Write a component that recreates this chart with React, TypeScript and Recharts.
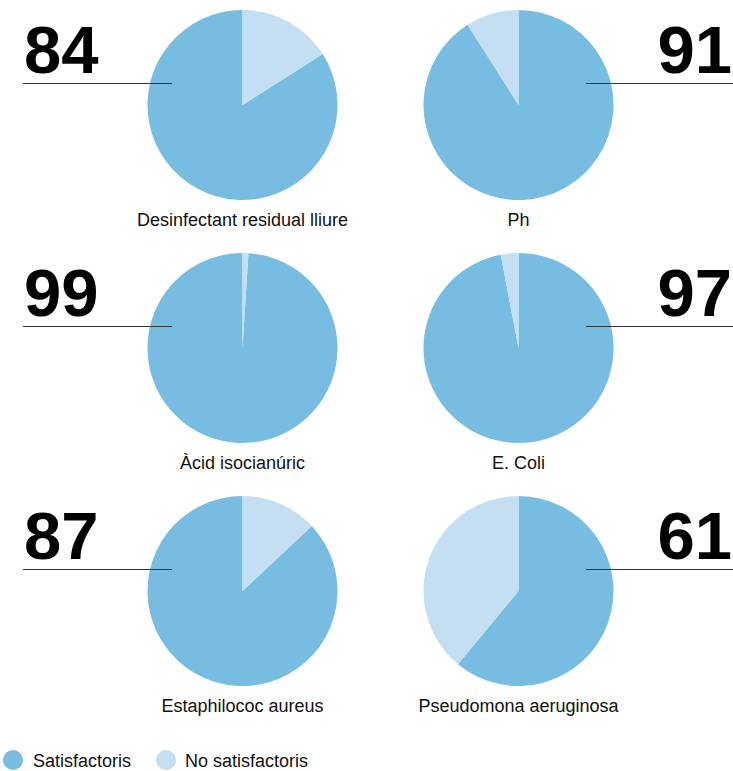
import { PieChart, Pie, Cell } from 'recharts'

const tests = [
  'Desinfectant residual lliure',
  'Ph',
  'Àcid isocianúric',
  'E. Coli',
  'Estaphilococ aureus',
  'Pseudomona aeruginosa',
]
const satisfactoris = [84, 91, 99, 97, 87, 61]
const noSatisfactoris = [16, 9, 1, 3, 13, 39]
const seriesNames = ['Satisfactoris', 'No satisfactoris']

const COLORS = ['#77bce1', '#c4def2']
const W = 733
const H = 771
const FONT = '"Liberation Sans", Arial, Helvetica, sans-serif'

// grid geometry
const colX = [242.5, 518.5]
const rowY = [105, 348, 591]
const R = 95

export default function App() {
  return (
    <div style={{ position: 'absolute', left: 0, top: 0, width: W, height: H, background: '#fff' }}>
      <PieChart width={W} height={H} margin={{ top: 0, right: 0, bottom: 0, left: 0 }}>
        {tests.map((t, i) => {
          const col = i % 2
          const row = Math.floor(i / 2)
          const data = [
            { name: seriesNames[0], value: satisfactoris[i] },
            { name: seriesNames[1], value: noSatisfactoris[i] },
          ]
          return (
            <Pie
              key={t}
              data={data}
              dataKey="value"
              cx={colX[col]}
              cy={rowY[row]}
              outerRadius={R}
              innerRadius={0}
              startAngle={90}
              endAngle={col === 0 ? 450 : -270}
              stroke="none"
              isAnimationActive={false}
            >
              {data.map((_, k) => (
                <Cell key={k} fill={COLORS[k]} />
              ))}
            </Pie>
          )
        })}
      </PieChart>
      <svg
        width={W}
        height={H}
        style={{ position: 'absolute', left: 0, top: 0, pointerEvents: 'none' }}
      >
        {tests.map((t, i) => {
          const col = i % 2
          const row = Math.floor(i / 2)
          const cy = rowY[row]
          return (
            <g key={t}>
              <line
                x1={col === 0 ? 23 : 586}
                x2={col === 0 ? 172 : W}
                y1={cy - 21.5}
                y2={cy - 21.5}
                stroke="#333"
                strokeWidth={1}
              />
              <text
                x={col === 0 ? 24 : 732}
                y={cy - 32}
                textAnchor={col === 0 ? 'start' : 'end'}
                fontFamily={FONT}
                fontWeight="bold"
                fontSize={67}
                fill="#000"
              >
                {satisfactoris[i]}
              </text>
              <text
                x={colX[col]}
                y={cy + 121}
                textAnchor="middle"
                fontFamily={FONT}
                fontSize={18}
                fill="#111"
              >
                {t}
              </text>
            </g>
          )
        })}
        {/* legend */}
        <circle cx={13} cy={760} r={10} fill={COLORS[0]} />
        <text x={33} y={767} fontFamily={FONT} fontSize={18} fill="#111">
          {seriesNames[0]}
        </text>
        <circle cx={166} cy={760} r={10} fill={COLORS[1]} />
        <text x={185} y={767} fontFamily={FONT} fontSize={18} fill="#111">
          {seriesNames[1]}
        </text>
      </svg>
    </div>
  )
}
